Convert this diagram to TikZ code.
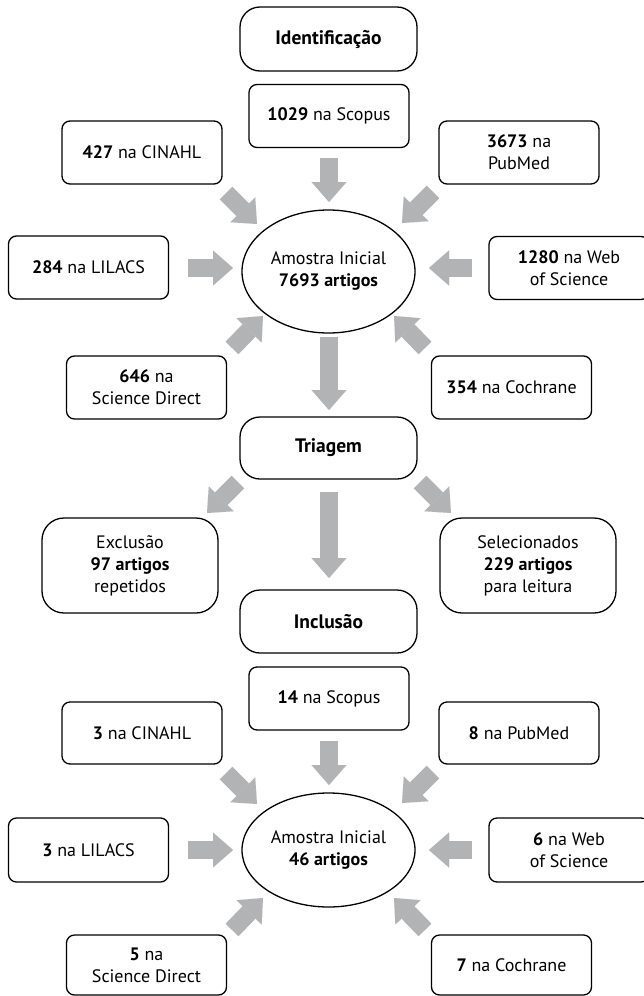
\documentclass[tikz,border=0pt]{standalone}
\usepackage{fontspec}
\setmainfont{PT Sans}
\usetikzlibrary{shapes.geometric,arrows.meta}
\definecolor{arrowgray}{RGB}{178,179,181}
\begin{document}
\begin{tikzpicture}[x=1pt,y=-1pt,
  every node/.style={font=\fontsize{18}{22}\selectfont, align=center, inner sep=0pt},
  stagebox/.style={draw, line width=1.3pt, rounded corners=20pt, minimum width=177pt, minimum height=64pt, font=\fontsize{19.5}{22}\selectfont\bfseries},
  srcbox/.style={draw, line width=1.3pt, rounded corners=8pt, minimum width=160pt, minimum height=63pt},
  resbox/.style={draw, line width=1.3pt, rounded corners=22pt, minimum width=176pt, minimum height=95pt},
  sample/.style={draw, line width=1.3pt, ellipse, minimum width=173pt, minimum height=123pt},
  blockarrow/.style={draw=arrowgray, line width=18pt, line cap=butt, -{Triangle[width=35pt,length=20pt,line width=0.01pt]}}
]
\useasboundingbox (0,0) rectangle (644,996);
% top section
\node[stagebox] (ident) at (328.5,39) {Identificação};
\node[srcbox] (scopusA) at (329,116) {\textbf{1029} na Scopus};
\node[srcbox] (cinahlA) at (142,152.5) {\textbf{427} na CINAHL};
\node[srcbox] (pubmedA) at (519,152.5) {\textbf{3673} na\\PubMed};
\node[srcbox] (lilacsA) at (88.5,267.5) {\textbf{284} na LILACS};
\node[srcbox] (webA) at (569,268) {\textbf{1280} na Web\\of Science};
\node[sample] (ellA) at (328.5,271.5) {Amostra Inicial\\\textbf{7693 artigos}};
\node[srcbox] (sdA) at (146.5,387.5) {\textbf{646} na\\Science Direct};
\node[srcbox] (cochA) at (511.5,387.5) {\textbf{354} na Cochrane};
% screening
\node[stagebox, minimum height=62pt] (triagem) at (328.5,448) {Triagem};
\node[resbox] (excl) at (130,565.5) {Exclusão\\\textbf{97 artigos}\\repetidos};
\node[resbox] (sel) at (528,565.5) {Selecionados\\\textbf{229 artigos}\\para leitura};
% inclusion
\node[stagebox, minimum height=63pt] (incl) at (328.5,621.5) {Inclusão};
\node[srcbox] (scopusB) at (329,698.5) {\textbf{14} na Scopus};
\node[srcbox, minimum height=62pt] (cinahlB) at (142,733) {\textbf{3} na CINAHL};
\node[srcbox, minimum height=62pt] (pubmedB) at (519,733) {\textbf{8} na PubMed};
\node[srcbox, minimum height=64pt] (lilacsB) at (88.5,850) {\textbf{3} na LILACS};
\node[srcbox, minimum height=64pt] (webB) at (569,850) {\textbf{6} na Web\\of Science};
\node[sample, minimum height=114pt] (ellB) at (328.5,850) {Amostra Inicial\\\textbf{46 artigos}};
\node[srcbox, minimum height=60pt] (sdB) at (146.5,965) {\textbf{5} na\\Science Direct};
\node[srcbox, minimum height=60pt] (cochB) at (511.5,965) {\textbf{7} na Cochrane};
% arrow end points
\coordinate (a1t) at (329,158); \coordinate (a1h) at (329,202);
\coordinate (a2t) at (226,193); \coordinate (a2h) at (257,224);
\coordinate (a3t) at (433,192); \coordinate (a3h) at (402,223);
\coordinate (a4t) at (188,268); \coordinate (a4h) at (233,268);
\coordinate (a5t) at (472,268); \coordinate (a5h) at (429,268);
\coordinate (a6t) at (232,348); \coordinate (a6h) at (263,316);
\coordinate (a7t) at (425,348); \coordinate (a7h) at (394,316);
\coordinate (a8t) at (329,337); \coordinate (a8h) at (329,410);
\coordinate (a9t) at (238,482); \coordinate (a9h) at (207,513);
\coordinate (a10t) at (420,482); \coordinate (a10h) at (451,513);
\coordinate (a11t) at (329,492); \coordinate (a11h) at (329,578);
\coordinate (b1t) at (329,741); \coordinate (b1h) at (329,785);
\coordinate (b2t) at (226,773); \coordinate (b2h) at (257,804);
\coordinate (b3t) at (433,772); \coordinate (b3h) at (402,803);
\coordinate (b4t) at (188,850); \coordinate (b4h) at (233,850);
\coordinate (b5t) at (472,850); \coordinate (b5h) at (429,850);
\coordinate (b6t) at (232,930); \coordinate (b6h) at (263,898);
\coordinate (b7t) at (425,930); \coordinate (b7h) at (394,898);
\foreach \n in {a1,a2,a3,a4,a5,a6,a7,a8,a9,a10,a11,b1,b2,b3,b4,b5,b6,b7}
  \draw[blockarrow] (\n t) -- (\n h);
\end{tikzpicture}
\end{document}
